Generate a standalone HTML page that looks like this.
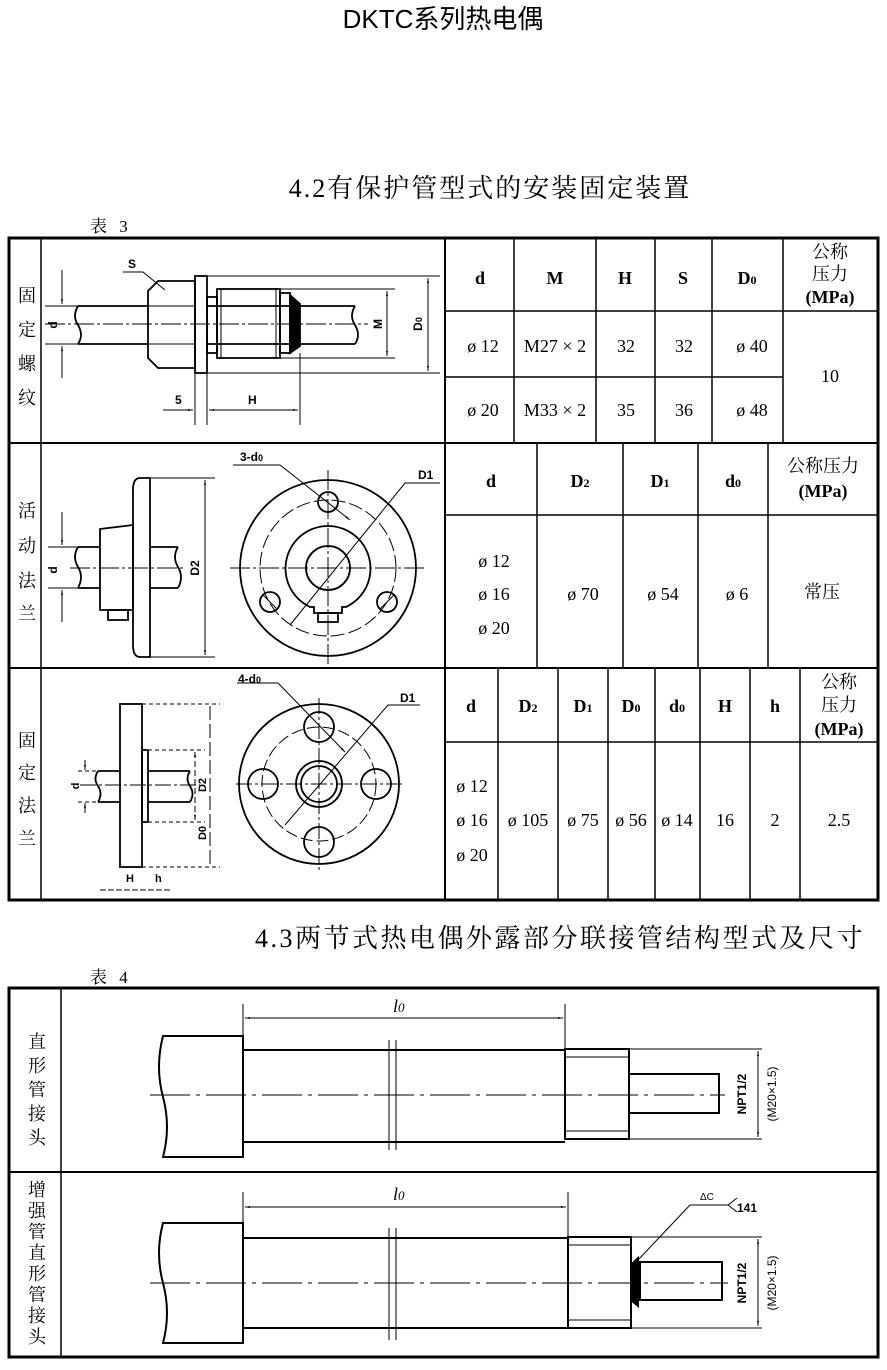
<!DOCTYPE html>
<html><head><meta charset="utf-8"><style>
html,body{margin:0;padding:0;background:#fff}
svg text{font-family:"Liberation Serif","Noto Serif CJK SC",serif;fill:#000}
.s{font-family:"Liberation Sans","Noto Sans CJK SC",sans-serif}
</style></head><body>
<svg width="887" height="1365" viewBox="0 0 887 1365" xmlns="http://www.w3.org/2000/svg">
<defs>
<marker id="a" viewBox="0 0 10 10" refX="10" refY="5" markerWidth="8" markerHeight="5" orient="auto-start-reverse"><path d="M0,3 L10,5 L0,7z" fill="#000"/></marker>
</defs>
<text x="443" y="28" font-size="26" text-anchor="middle" class="s">DKTC系列热电偶</text>
<text x="490" y="197" font-size="26" letter-spacing="2" text-anchor="middle">4.2有保护管型式的安装固定装置</text>
<text x="90" y="232" font-size="17" letter-spacing="4">表 3</text>
<text x="560" y="947" font-size="26" letter-spacing="2.5" text-anchor="middle">4.3两节式热电偶外露部分联接管结构型式及尺寸</text>
<text x="90" y="983" font-size="17" letter-spacing="4">表 4</text>

<g stroke="#000" fill="none">
<rect x="9" y="238" width="869" height="662" stroke-width="3"/>
<line x1="41" y1="238" x2="41" y2="900" stroke-width="1.5"/>
<line x1="9" y1="443" x2="878" y2="443" stroke-width="2"/>
<line x1="9" y1="668" x2="878" y2="668" stroke-width="2"/>
<line x1="445" y1="238" x2="445" y2="900" stroke-width="2"/>
<g stroke-width="1.5">
<line x1="445" y1="311" x2="878" y2="311"/><line x1="445" y1="377" x2="783" y2="377"/>
<line x1="514" y1="238" x2="514" y2="443"/><line x1="596" y1="238" x2="596" y2="443"/>
<line x1="655" y1="238" x2="655" y2="443"/><line x1="712" y1="238" x2="712" y2="443"/>
<line x1="783" y1="238" x2="783" y2="443"/>
<line x1="445" y1="515" x2="878" y2="515"/>
<line x1="537" y1="443" x2="537" y2="668"/><line x1="623" y1="443" x2="623" y2="668"/>
<line x1="698" y1="443" x2="698" y2="668"/><line x1="768" y1="443" x2="768" y2="668"/>
<line x1="445" y1="742" x2="878" y2="742"/>
<line x1="498" y1="668" x2="498" y2="900"/><line x1="558" y1="668" x2="558" y2="900"/>
<line x1="608" y1="668" x2="608" y2="900"/><line x1="655" y1="668" x2="655" y2="900"/>
<line x1="700" y1="668" x2="700" y2="900"/><line x1="750" y1="668" x2="750" y2="900"/>
<line x1="800" y1="668" x2="800" y2="900"/>
</g>
<rect x="9" y="988" width="869" height="369" stroke-width="3"/>
<line x1="61" y1="988" x2="61" y2="1357" stroke-width="1.5"/>
<line x1="9" y1="1172" x2="878" y2="1172" stroke-width="2"/>
</g>

<g font-size="18" text-anchor="middle">
<text x="27" y="302">固</text><text x="27" y="336">定</text><text x="27" y="370">螺</text><text x="27" y="404">纹</text>
<text x="27" y="517">活</text><text x="27" y="552">动</text><text x="27" y="587">法</text><text x="27" y="620">兰</text>
<text x="27" y="747">固</text><text x="27" y="779">定</text><text x="27" y="812">法</text><text x="27" y="845">兰</text>
<text x="37" y="1048">直</text><text x="37" y="1072">形</text><text x="37" y="1096">管</text><text x="37" y="1120">接</text><text x="37" y="1144">头</text>
<text x="37" y="1196">增</text><text x="37" y="1217">强</text><text x="37" y="1238">管</text><text x="37" y="1259">直</text><text x="37" y="1280">形</text><text x="37" y="1301">管</text><text x="37" y="1322">接</text><text x="37" y="1343">头</text>
</g>

<g font-size="18" text-anchor="middle" font-weight="bold">
<text x="480" y="284">d</text><text x="555" y="284">M</text><text x="625" y="284">H</text><text x="683" y="284">S</text><text x="747" y="284">D<tspan font-size="12">0</tspan></text>
<text x="830" y="258" font-weight="normal">公称</text><text x="830" y="280" font-weight="normal">压力</text><text x="830" y="303">(MPa)</text>
</g>
<g font-size="18" text-anchor="middle">
<text x="483" y="352">ø 12</text><text x="555" y="352">M27 × 2</text><text x="626" y="352">32</text><text x="684" y="352">32</text><text x="752" y="352">ø 40</text>
<text x="483" y="416">ø 20</text><text x="555" y="416">M33 × 2</text><text x="626" y="416">35</text><text x="684" y="416">36</text><text x="752" y="416">ø 48</text>
<text x="830" y="382">10</text>
<text x="491" y="487" font-weight="bold">d</text><text x="580" y="487" font-weight="bold">D<tspan font-size="12">2</tspan></text><text x="660" y="487" font-weight="bold">D<tspan font-size="12">1</tspan></text><text x="733" y="487" font-weight="bold">d<tspan font-size="12">0</tspan></text>
<text x="823" y="472">公称压力</text><text x="823" y="497" font-weight="bold">(MPa)</text>
<text x="494" y="567">ø 12</text><text x="494" y="600">ø 16</text><text x="494" y="634">ø 20</text>
<text x="583" y="600">ø 70</text><text x="663" y="600">ø 54</text><text x="737" y="600">ø 6</text><text x="822" y="598">常压</text>
<text x="471" y="712" font-weight="bold">d</text><text x="528" y="712" font-weight="bold">D<tspan font-size="12">2</tspan></text><text x="583" y="712" font-weight="bold">D<tspan font-size="12">1</tspan></text><text x="631" y="712" font-weight="bold">D<tspan font-size="12">0</tspan></text><text x="677" y="712" font-weight="bold">d<tspan font-size="12">0</tspan></text><text x="725" y="712" font-weight="bold">H</text><text x="775" y="712" font-weight="bold">h</text>
<text x="839" y="688">公称</text><text x="839" y="711">压力</text><text x="839" y="735" font-weight="bold">(MPa)</text>
<text x="472" y="792">ø 12</text><text x="472" y="826">ø 16</text><text x="472" y="861">ø 20</text>
<text x="528" y="826">ø 105</text><text x="583" y="826">ø 75</text><text x="631" y="826">ø 56</text><text x="677" y="826">ø 14</text><text x="725" y="826">16</text><text x="775" y="826">2</text><text x="839" y="826">2.5</text>
</g>

<g stroke="#000" fill="none" stroke-width="1.8">
<path d="M78,306 H148 M78,344 H148 M207,306 H355 M207,344 H355"/>
<path d="M78,306 q-6,10 0,19 q6,10 0,19"/>
<path d="M355,306 q-6,10 0,19 q6,10 0,19"/>
<path d="M158,281 H195 V368 H158 L148,358 V291 Z"/>
<path d="M148,306 H195 M148,344 H195" stroke-width="1"/>
<rect x="195" y="276" width="12" height="97"/>
<rect x="207" y="297" width="10" height="56"/>
<rect x="217" y="289" width="63" height="69"/>
<path d="M221,289 V358 M276,289 V358" stroke-width="1"/>
<rect x="280" y="293" width="10" height="60"/>
<path d="M290,295 L300,304 V346 L290,353 Z" fill="#000"/>
</g>
<g stroke="#000" stroke-width="1" fill="none">
<path d="M45,324 H368" stroke-dasharray="20,3,3,3"/>
<path d="M45,306 H78 M45,344 H78"/>
<line x1="62" y1="270" x2="62" y2="304" marker-end="url(#a)"/><line x1="62" y1="378" x2="62" y2="346" marker-end="url(#a)"/>
<path d="M217,289 H395 M217,358 H395 M207,276 H440 M207,373 H440"/>
<line x1="387" y1="291" x2="387" y2="356" marker-start="url(#a)" marker-end="url(#a)"/>
<line x1="428" y1="278" x2="428" y2="371" marker-start="url(#a)" marker-end="url(#a)"/>
<path d="M195,373 V425 M207,373 V425 M300,353 V425"/>
<line x1="163" y1="410" x2="193" y2="410" marker-end="url(#a)"/>
<line x1="209" y1="410" x2="298" y2="410" marker-start="url(#a)" marker-end="url(#a)"/>
<path d="M123,272 H143 L165,290"/>
</g>
<g class="s" font-size="12" font-weight="bold">
<text x="128" y="268" class="s">S</text>
<text x="175" y="404" class="s">5</text><text x="248" y="404" class="s">H</text>
<text transform="translate(57,325) rotate(-90)" text-anchor="middle" class="s">d</text>
<text transform="translate(382,324) rotate(-90)" text-anchor="middle" class="s">M</text>
<text transform="translate(422,324) rotate(-90)" text-anchor="middle" class="s">D<tspan font-size="9">0</tspan></text>
</g>

<g stroke="#000" fill="none" stroke-width="1.8">
<path d="M78,547 H100 M78,588 H100 M150,547 H178 M150,588 H178"/>
<path d="M78,547 q-6,10 0,20 q6,10 0,21"/>
<path d="M178,547 q-6,10 0,20 q6,10 0,21"/>
<path d="M100,529 L133,525 V610 H100 Z"/>
<path d="M140,478 H150 V657 H140 Q133,657 133,645 V490 Q133,478 140,478 Z"/>
<rect x="108" y="610" width="20" height="10"/>
<circle cx="328" cy="568" r="88"/>
<circle cx="328" cy="568" r="68" stroke-width="1" stroke-dasharray="14,4"/>
<path d="M310,607 A42.5,42.5 0 1 1 346,607 L342,607 V613 H314 V607 Z"/>
<circle cx="328" cy="568" r="22"/>
<circle cx="328" cy="502" r="10"/><circle cx="270" cy="602" r="10"/><circle cx="387" cy="602" r="10"/>
<rect x="318" y="613" width="20" height="9"/>
</g>
<g stroke="#000" stroke-width="1" fill="none">
<path d="M70,568 H185" stroke-dasharray="20,3,3,3"/>
<path d="M48,547 H78 M48,588 H78 M150,478 H215 M150,657 H215"/>
<line x1="62" y1="512" x2="62" y2="545" marker-end="url(#a)"/><line x1="62" y1="622" x2="62" y2="590" marker-end="url(#a)"/>
<line x1="205" y1="480" x2="205" y2="655" marker-start="url(#a)" marker-end="url(#a)"/>
<path d="M230,568 H426 M328,470 V665" stroke-dasharray="20,3,3,3"/>
<path d="M233,465 H280 L350,520" marker-end="url(#a)"/>
<path d="M440,483 H405 L290,625"/>
<line x1="263" y1="595" x2="277" y2="609"/><line x1="380" y1="609" x2="394" y2="595"/>
</g>
<g class="s" font-size="12" font-weight="bold">
<text x="240" y="461" class="s">3-d<tspan font-size="9">0</tspan></text>
<text x="418" y="479" class="s">D1</text>
<text transform="translate(57,570) rotate(-90)" text-anchor="middle" class="s">d</text>
<text transform="translate(199,568) rotate(-90)" text-anchor="middle" class="s">D2</text>
</g>

<g stroke="#000" fill="none" stroke-width="1.8">
<path d="M98,771 H120 M98,802 H120 M148,771 H190 M148,802 H190"/>
<path d="M98,771 q-5,8 0,15 q5,8 0,16"/><path d="M190,771 q-5,8 0,15 q5,8 0,16"/>
<rect x="120" y="704" width="22" height="163"/>
<rect x="142" y="750" width="6" height="72"/>
<circle cx="319" cy="784" r="80"/>
<circle cx="319" cy="784" r="57" stroke-width="1" stroke-dasharray="12,4"/>
<circle cx="319" cy="784" r="23"/><circle cx="319" cy="784" r="18"/>
<circle cx="319" cy="727" r="15"/><circle cx="319" cy="842" r="15"/><circle cx="263" cy="784" r="15"/><circle cx="376" cy="784" r="15"/>
</g>
<g stroke="#000" stroke-width="1" fill="none">
<path d="M80,785 H200 M236,784 H402 M319,698 V870" stroke-dasharray="16,3,3,3"/>
<path d="M78,771 H98 M78,802 H98 M142,704 H220 M148,750 H205 M148,822 H205 M142,867 H220" stroke-dasharray="4,3"/>
<line x1="85" y1="760" x2="85" y2="770" marker-end="url(#a)"/><line x1="85" y1="813" x2="85" y2="803" marker-end="url(#a)"/>
<line x1="195" y1="752" x2="195" y2="820" marker-start="url(#a)" marker-end="url(#a)" stroke-dasharray="6,3"/>
<line x1="210" y1="706" x2="210" y2="865" stroke-dasharray="14,4"/>
<line x1="100" y1="890" x2="170" y2="890" stroke-dasharray="6,2"/>
<path d="M237,683 H278 L345,752" marker-end="url(#a)"/>
<path d="M420,705 H388 L285,825"/>
</g>
<g class="s" font-size="11" font-weight="bold">
<text x="238" y="683" class="s" font-size="12">4-d<tspan font-size="9">0</tspan></text>
<text x="400" y="702" class="s" font-size="12">D1</text>
<text x="126" y="882" class="s">H</text><text x="155" y="882" class="s">h</text>
<text transform="translate(79,786) rotate(-90)" text-anchor="middle" class="s">d</text>
<text transform="translate(206,785) rotate(-90)" text-anchor="middle" class="s">D2</text>
<text transform="translate(206,833) rotate(-90)" text-anchor="middle" class="s">D0</text>
</g>

<g stroke="#000" fill="none" stroke-width="2">
<path d="M163,1036 H243 V1157 H163 q8,-30 0,-60 q-8,-30 0,-61 Z"/>
<path d="M243,1050 H565 M243,1142 H565"/>
<rect x="565" y="1049" width="64" height="90"/>
<rect x="629" y="1074" width="90" height="39"/>
<path d="M163,1223 H243 V1343 H163 q8,-30 0,-60 q-8,-30 0,-60 Z"/>
<path d="M243,1238 H568 M243,1328 H568"/>
<rect x="568" y="1237" width="63" height="91"/>
<rect x="640" y="1262" width="82" height="38"/>
<path d="M631,1265 L638,1258 V1306 L631,1300 Z" fill="#000"/>
</g>
<g stroke="#000" stroke-width="1" fill="none">
<path d="M565,1057 H629 M565,1131 H629 M568,1245 H631 M568,1320 H631"/>
<path d="M150,1095 H725 M150,1283 H728" stroke-dasharray="40,6,4,6"/>
<path d="M389,1040 V1150 M396,1040 V1150 M389,1228 V1340 M396,1228 V1340"/>
<path d="M243,1004 V1050 M565,1004 V1049 M243,1192 V1238 M568,1192 V1237"/>
<line x1="245" y1="1018" x2="563" y2="1018" marker-start="url(#a)" marker-end="url(#a)"/>
<line x1="245" y1="1207" x2="566" y2="1207" marker-start="url(#a)" marker-end="url(#a)"/>
<path d="M629,1049 H762 M629,1139 H762 M631,1237 H762 M631,1328 H762"/>
<line x1="758" y1="1051" x2="758" y2="1137" marker-start="url(#a)" marker-end="url(#a)"/>
<line x1="758" y1="1239" x2="758" y2="1326" marker-start="url(#a)" marker-end="url(#a)"/>
<path d="M638,1260 L690,1205 H728 L737,1198 M728,1205 L737,1212"/>
</g>
<g font-size="18" font-style="italic">
<text x="393" y="1012">l<tspan font-size="13">0</tspan></text>
<text x="393" y="1200">l<tspan font-size="13">0</tspan></text>
</g>
<g class="s" font-size="12" font-weight="bold">
<text transform="translate(746,1094) rotate(-90)" text-anchor="middle" class="s">NPT1/2</text>
<text transform="translate(776,1094) rotate(-90)" text-anchor="middle" class="s" font-weight="normal">(M20×1.5)</text>
<text transform="translate(746,1283) rotate(-90)" text-anchor="middle" class="s">NPT1/2</text>
<text transform="translate(776,1283) rotate(-90)" text-anchor="middle" class="s" font-weight="normal">(M20×1.5)</text>
<text x="737" y="1212" class="s">141</text>
<text x="700" y="1200" class="s" font-size="10" font-weight="normal">ΔC</text>
</g>
</svg>
</body></html>
